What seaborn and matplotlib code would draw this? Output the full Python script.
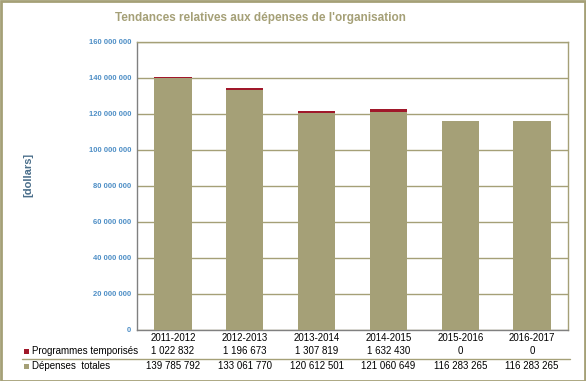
import matplotlib
matplotlib.use("Agg")
import matplotlib.pyplot as plt
import matplotlib.transforms as mtransforms
from matplotlib.patches import Rectangle
from matplotlib.lines import Line2D
import seaborn as sns
import pandas as pd

years = ["2011-2012", "2012-2013", "2013-2014", "2014-2015", "2015-2016", "2016-2017"]
programmes = [1022832, 1196673, 1307819, 1632430, 0, 0]
depenses = [139785792, 133061770, 120612501, 121060649, 116283265, 116283265]
programmes_lbl = ["1 022 832", "1 196 673", "1 307 819", "1 632 430", "0", "0"]
depenses_lbl = ["139 785 792", "133 061 770", "120 612 501", "121 060 649", "116 283 265", "116 283 265"]
yticks = list(range(0, 160000001, 20000000))

OLIVE = "#A5A077"
RED = "#A0182A"
TICKBLUE = "#4F8FC6"

sns.set_style("white")
plt.rcParams['font.family'] = ['Liberation Sans', 'DejaVu Sans']

df = pd.DataFrame({"year": years, "prog": programmes, "dep": depenses})
df["total"] = df["prog"] + df["dep"]

fig = plt.figure(figsize=(5.86, 3.81), dpi=100)
W, H = 586, 381
ax = fig.add_axes([137 / W, 1 - 330 / H, (568 - 137) / W, (330 - 42) / H])

sns.barplot(data=df, x="year", y="total", color=RED, width=0.52, saturation=1, ax=ax,
            zorder=2, linewidth=0, edgecolor="none")
sns.barplot(data=df, x="year", y="dep", color=OLIVE, width=0.52, saturation=1, ax=ax,
            zorder=3, linewidth=0, edgecolor="none")

ax.set_ylim(0, 160000000)
ax.set_yticks(yticks)
ax.set_yticklabels(["{:,}".format(v).replace(",", " ") for v in yticks],
                   fontsize=5.5, fontweight="bold", color=TICKBLUE)
ax.yaxis.grid(True, color=OLIVE, linewidth=1.0, zorder=0)
ax.set_axisbelow(True)
ax.tick_params(axis="y", length=0, pad=4)
ax.tick_params(axis="x", length=0, pad=2, labelsize=7, labelcolor="black")
ax.set_xlabel("")
ax.set_ylabel("")
for s in ["top", "right"]:
    ax.spines[s].set_color(OLIVE)
    ax.spines[s].set_linewidth(1.0)
for s in ["left", "bottom"]:
    ax.spines[s].set_color("#808080")
    ax.spines[s].set_linewidth(1.0)

fig.text(28 / W, 1 - 175 / H, "[dollars]", rotation=90, ha="center", va="center",
         fontsize=8, fontweight="bold", color="#4A6E8A")

fig.text(260 / W, 1 - 18 / H, "Tendances relatives aux dépenses de l'organisation",
         ha="center", va="center", fontsize=8.5, fontweight="bold", color=OLIVE)

# data table
trans = mtransforms.blended_transform_factory(ax.transData, fig.transFigure)
xs = ax.get_xticks()
for x, a, b in zip(xs, programmes_lbl, depenses_lbl):
    fig.text(x, 1 - 351 / H, a, transform=trans, ha="center", va="center", fontsize=7, color="black")
    fig.text(x, 1 - 366 / H, b, transform=trans, ha="center", va="center", fontsize=7, color="black")

fig.patches.append(Rectangle((24 / W, 1 - 354 / H), 5 / W, 5 / H, transform=fig.transFigure,
                             facecolor=RED, edgecolor="none"))
fig.text(32 / W, 1 - 351 / H, "Programmes temporisés", ha="left", va="center", fontsize=7, color="black")
fig.patches.append(Rectangle((24 / W, 1 - 369 / H), 5 / W, 5 / H, transform=fig.transFigure,
                             facecolor=OLIVE, edgecolor="none"))
fig.text(32 / W, 1 - 366 / H, "Dépenses  totales", ha="left", va="center", fontsize=7, color="black")
fig.lines.append(Line2D([22 / W, 570 / W], [1 - 358.5 / H, 1 - 358.5 / H], transform=fig.transFigure,
                        color=OLIVE, linewidth=1.0))

# figure border
fig.patches.append(Rectangle((0.5 / W, 0.5 / H), (W - 1.5) / W, (H - 1.5) / H, transform=fig.transFigure,
                             facecolor="none", edgecolor=OLIVE, linewidth=2))

fig.savefig("out.png", dpi=100)
